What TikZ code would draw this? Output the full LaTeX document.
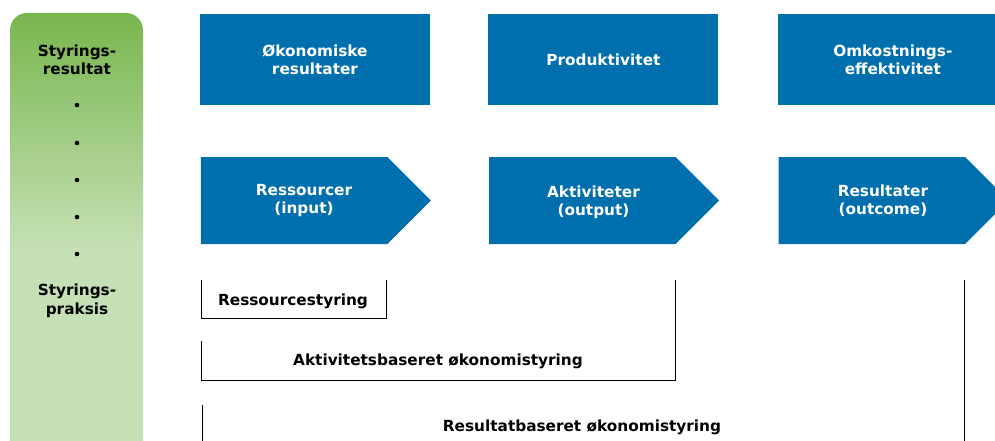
\documentclass[tikz,border=0pt]{standalone}
\usepackage{fontspec}
\setmainfont{DejaVu Sans}
\usetikzlibrary{positioning,shapes.symbols}

\definecolor{boxblue}{RGB}{0,111,173}
\definecolor{paneldark}{RGB}{120,182,78}
\definecolor{panellight}{RGB}{197,224,180}
\pgfdeclareverticalshading{panelgreen}{100bp}{color(0bp)=(panellight); color(49bp)=(panellight); color(75bp)=(paneldark); color(100bp)=(paneldark)}

\tikzset{
  diagtext/.style={font=\fontsize{15.3}{18.5}\selectfont\bfseries, align=center},
  topbox/.style={diagtext, rectangle, fill=boxblue, text=white, inner sep=0pt,
    minimum width=230pt, minimum height=91pt},
  flowbox/.style={signal, signal to=east, signal pointer angle=90,
    fill=boxblue, inner sep=0pt, minimum width=230pt, minimum height=87pt},
  flowtext/.style={diagtext, text=white},
  panel/.style={rectangle, rounded corners=17pt, shading=panelgreen,
    minimum width=133pt, minimum height=450pt, inner sep=0pt},
  bracketline/.style={draw=black, line width=0.9pt},
}

\begin{document}
\begin{tikzpicture}[x=1pt, y=-1pt]
  \useasboundingbox (0,0) rectangle (995,441);
  \clip (0,0) rectangle (995,441);

  % venstre felt
  \node [panel] (panel) at (76.5,238) {};
  \node [diagtext] (styres) at (77,60) {Styrings-\\resultat};
  \foreach \y in {105,143,180,217,254}
    \fill (77,\y) circle (2.3pt);
  \node [diagtext] (stypra) at (77,301) {Styrings-\\praksis};

  % overste raekke
  \node [topbox] (okores) at (315,60) {Økonomiske\\resultater};
  \node [topbox, right=58pt of okores] (prod) {Produktivitet};
  \node [topbox, right=59pt of prod] (omkeff) {Omkostnings-\\effektivitet};

  % pile
  \node [flowbox] (ress) at (294,200.5) {};
  \node [flowbox, right=58pt of ress] (akt) {};
  \node [flowbox, right=59pt of akt] (resu) {};
  \node [flowtext] (resstxt) at ([xshift=10pt]ress.center) {Ressourcer\\(input)};
  \node [flowtext] (akttxt) at ([xshift=11pt, yshift=-2pt]akt.center) {Aktiviteter\\(output)};
  \node [flowtext] (resutxt) at ([xshift=11pt]resu.center) {Resultater\\(outcome)};

  % styringsformer
  \draw [bracketline] (201,280) |- (386,318) -- (386,280);
  \node [diagtext] (resstyr) at (293,301) {Ressourcestyring};

  \draw [bracketline] (201,341) |- (675,380) -- (675,280);
  \node [diagtext] (aktstyr) at (438,361) {Aktivitetsbaseret økonomistyring};

  \draw [bracketline] (202,405) |- (964,460) -- (964,280);
  \node [diagtext] (resustyr) at (582,427) {Resultatbaseret økonomistyring};
\end{tikzpicture}
\end{document}
